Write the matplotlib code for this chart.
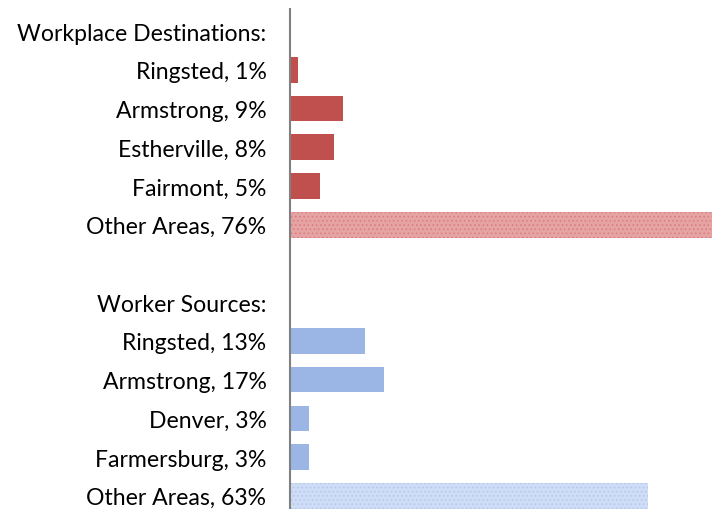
import numpy as np
import matplotlib
matplotlib.use('Agg')
from matplotlib import pyplot as plt

# rows top to bottom
labels = ['Workplace Destinations:', 'Ringsted, 1%', 'Armstrong, 9%', 'Estherville, 8%',
          'Fairmont, 5%', 'Other Areas, 76%', '', 'Worker Sources:', 'Ringsted, 13%',
          'Armstrong, 17%', 'Denver, 3%', 'Farmersburg, 3%', 'Other Areas, 63%']
dest_vals = [1.4, 9.4, 7.8, 5.2, 76]
src_vals = [13.2, 16.6, 3.3, 3.3, 63]

red = '#C0504D'
red_light = '#E6A3A3'
blue = '#9BB5E4'
blue_light = '#CFDCF5'

plt.rcParams['font.family'] = ['Lato', 'DejaVu Sans']
plt.rcParams['hatch.linewidth'] = 0.6

fig = plt.figure(figsize=(7.12, 5.10), dpi=100)
ax = fig.add_axes([290/712, 0, 1 - 290/712, 500/510])

h = 0.66
dest_pos = np.arange(1, 5)
ax.barh(dest_pos, dest_vals[:4], height=h, color=red)
ax.barh([5], dest_vals[4:], height=h, color=red_light, hatch='....', edgecolor='#D97C7A', linewidth=0)
src_pos = np.arange(8, 12)
ax.barh(src_pos, src_vals[:4], height=h, color=blue)
ax.barh([12], src_vals[4:], height=h, color=blue_light, hatch='....', edgecolor='#B3C6EC', linewidth=0)

ax.set_xlim(0, 74.3)
ax.set_ylim(12.34, -0.57)
ax.set_yticks(np.arange(len(labels)))
ax.set_yticklabels(labels, fontsize=16.6, color='#000000')
ax.tick_params(axis='y', length=0, pad=17)
ax.set_xticks([])
for s in ['top', 'right', 'bottom']:
    ax.spines[s].set_visible(False)
ax.spines['left'].set_color('#808080')
ax.spines['left'].set_linewidth(1.5)

fig.savefig('out.png', dpi=100)
